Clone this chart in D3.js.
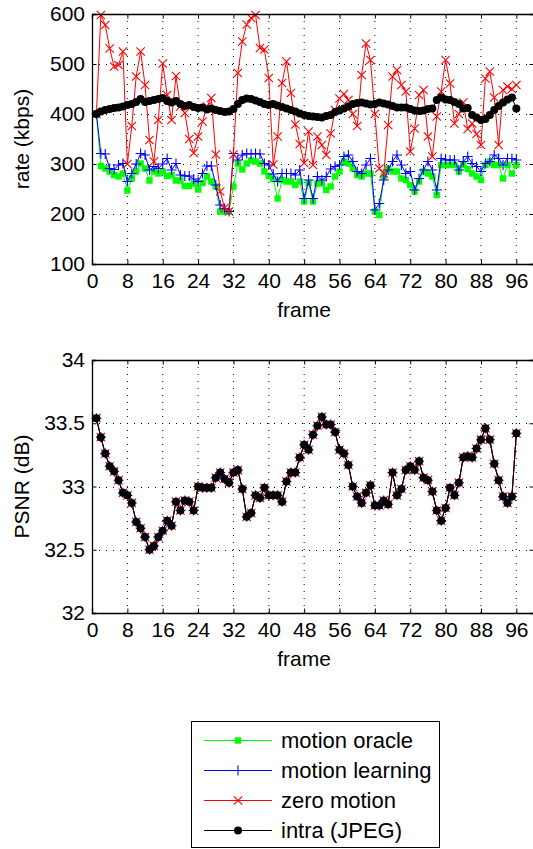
<!DOCTYPE html>
<html>
<head>
<meta charset="utf-8">
<script src="https://cdn.jsdelivr.net/npm/d3@7"></script>
<style>
  body { margin: 0; background: #fff; }
  svg { display: block; font-family: "Liberation Sans", Arial, Helvetica, sans-serif; }
</style>
</head>
<body>
<div id="chart"></div>
<script>
// frames 1..96
const frames = d3.range(1, 97);

// rate (kbps) per frame
const rateOracle = [400,296,291,285,278,275,281,247,271,285,301,291,267,285,281,285,276,278,267,267,
  256,256,261,249,262,275,265,255,205,205,205,255,301,289,301,307,305,301,285,276,
  270,231,268,265,265,258,265,225,262,225,261,261,248,255,275,285,305,301,291,278,
  275,281,281,205,198,275,291,285,285,271,268,258,245,265,285,281,275,238,298,298,
  298,298,285,298,290,281,275,268,298,305,298,298,271,298,281,298];
const rateLearning = [400,321,320,291,289,298,301,265,281,300,321,318,288,295,291,300,311,288,301,278,
  276,276,270,265,281,296,296,258,218,211,205,321,308,318,321,320,321,320,301,298,
  280,265,281,281,281,278,288,231,268,231,275,268,275,290,295,298,315,318,305,285,
  281,298,311,208,221,268,288,305,318,298,281,285,248,271,288,305,288,248,311,308,
  308,308,288,305,315,301,295,285,301,305,318,311,298,311,311,308];
const rateZero = [400,598,578,531,495,498,525,300,376,475,525,458,348,305,388,501,438,388,476,415,
  402,350,322,355,385,415,432,319,245,212,205,319,482,545,579,592,598,532,529,472,
  299,355,462,505,442,379,340,302,365,298,355,338,318,361,408,431,440,428,400,376,
  478,541,508,400,291,281,378,475,488,458,445,325,371,438,448,355,315,395,445,508,
  461,381,400,423,370,381,360,338,471,485,433,338,448,455,450,458];
const rateIntra = [400,405,408,410,412,413,415,418,420,424,430,424,426,428,430,432,426,423,426,420,
  416,418,414,412,413,409,411,408,406,404,405,410,420,428,431,430,427,424,420,418,
  420,417,414,411,408,405,401,398,396,395,394,393,396,398,404,407,411,415,420,422,
  423,421,419,420,423,421,419,416,413,413,413,410,407,406,407,410,411,428,433,429,
  428,424,420,411,412,398,393,388,390,398,408,416,423,429,433,411];

// PSNR (dB) per frame, same for all four schemes
const psnr = [33.54,33.39,33.26,33.16,33.12,33.05,32.95,32.93,32.87,32.72,32.67,32.60,32.50,32.53,32.60,32.65,
  32.73,32.69,32.88,32.81,32.89,32.88,32.81,33.00,32.99,32.99,32.99,33.07,33.11,33.06,33.03,33.11,
  33.13,32.98,32.76,32.79,32.93,32.91,32.99,32.93,32.93,32.93,32.88,33.04,33.11,33.11,33.23,33.33,
  33.29,33.41,33.48,33.55,33.49,33.49,33.43,33.29,33.26,33.17,33.00,32.92,32.87,32.95,33.01,32.85,
  32.85,32.89,32.86,33.11,32.93,32.98,33.13,33.16,33.13,33.20,33.07,33.05,32.96,32.81,32.73,32.83,
  32.99,32.93,33.03,33.23,33.24,33.23,33.30,33.37,33.46,33.37,33.18,33.05,32.92,32.87,32.92,33.42];

const seriesNames = ['motion oracle', 'motion learning', 'zero motion', 'intra (JPEG)'];
const xTicks = d3.range(0, 97, 8);
const rateTicks = [100, 200, 300, 400, 500, 600];
const psnrTicks = [32, 32.5, 33, 33.5, 34];

const W = 533, H = 849;
const svg = d3.select('#chart').append('svg').attr('width', W).attr('height', H);

const left = 92, right = 534;
const x = d3.scaleLinear().domain([0, 100]).range([left, right]);

const styles = [
  { color: '#00ff00', marker: 'square' },
  { color: '#0000ff', marker: 'plus' },
  { color: '#ff0000', marker: 'cross' },
  { color: '#000000', marker: 'dot' }
];

function drawMarker(g, type, color, cx, cy) {
  if (type === 'square') {
    g.append('rect').attr('x', cx - 3.2).attr('y', cy - 3.2).attr('width', 6.4).attr('height', 6.4)
      .attr('fill', color);
  } else if (type === 'plus') {
    g.append('path').attr('d', `M${cx - 5},${cy}H${cx + 5}M${cx},${cy - 5}V${cy + 5}`)
      .attr('stroke', color).attr('stroke-width', 1.1);
  } else if (type === 'cross') {
    g.append('path').attr('d', `M${cx - 4.2},${cy - 4.2}L${cx + 4.2},${cy + 4.2}M${cx - 4.2},${cy + 4.2}L${cx + 4.2},${cy - 4.2}`)
      .attr('stroke', color).attr('stroke-width', 1.1);
  } else {
    g.append('circle').attr('cx', cx).attr('cy', cy).attr('r', 4).attr('fill', color);
  }
}

function drawPanel(top, bottom, yDomain, yTicks, yFmt, yLabel, series) {
  const y = d3.scaleLinear().domain(yDomain).range([bottom, top]);
  const g = svg.append('g');

  // grid
  g.append('g').selectAll('line.gx').data(xTicks.filter(d => d > 0)).join('line')
    .attr('x1', d => x(d)).attr('x2', d => x(d)).attr('y1', top).attr('y2', bottom)
    .attr('stroke', '#000').attr('stroke-width', 1).attr('stroke-dasharray', '1,6');
  g.append('g').selectAll('line.gy').data(yTicks.slice(1, -1)).join('line')
    .attr('x1', left).attr('x2', right).attr('y1', d => Math.round(y(d)) + 0.5).attr('y2', d => Math.round(y(d)) + 0.5)
    .attr('stroke', '#000').attr('stroke-width', 1).attr('stroke-dasharray', '1,6');

  // series
  const line = d3.line().x((d, i) => x(frames[i])).y(d => y(d));
  series.forEach((vals, k) => {
    const st = styles[k];
    const sg = g.append('g');
    sg.append('path').datum(vals).attr('d', line).attr('fill', 'none')
      .attr('stroke', st.color).attr('stroke-width', 1);
    vals.forEach((v, i) => drawMarker(sg, st.marker, st.color, x(frames[i]), y(v)));
  });

  // axes box with inward ticks
  const axB = g.append('g').attr('transform', `translate(0,${bottom})`)
    .call(d3.axisBottom(x).tickValues(xTicks).tickSize(-4.5).tickPadding(9));
  const axT = g.append('g').attr('transform', `translate(0,${top})`)
    .call(d3.axisTop(x).tickValues(xTicks).tickSize(-4.5).tickFormat(''));
  const axL = g.append('g').attr('transform', `translate(${left},0)`)
    .call(d3.axisLeft(y).tickValues(yTicks).tickSize(-4.5).tickPadding(7).tickFormat(yFmt));
  const axR = g.append('g').attr('transform', `translate(${right},0)`)
    .call(d3.axisRight(y).tickValues(yTicks).tickSize(-4.5).tickFormat(''));
  [axB, axT, axL, axR].forEach(a => {
    a.select('.domain').attr('stroke', '#000').attr('stroke-width', 1.3);
    a.selectAll('.tick line').attr('stroke', '#000');
    a.selectAll('text').attr('font-size', 21).attr('fill', '#000')
      .attr('font-family', '"Liberation Sans", Arial, sans-serif');
  });

  g.append('text').attr('x', 304).attr('y', bottom + 53).attr('text-anchor', 'middle')
    .attr('font-size', 21).text('frame');
  g.append('text').attr('transform', `translate(29,${(top + bottom) / 2}) rotate(-90)`)
    .attr('text-anchor', 'middle').attr('font-size', 21).text(yLabel);
}

drawPanel(14, 264, [100, 600], rateTicks, d3.format('d'), 'rate (kbps)',
  [rateOracle, rateLearning, rateZero, rateIntra]);
drawPanel(360, 613, [32, 34], psnrTicks, d => String(d), 'PSNR (dB)',
  [psnr, psnr, psnr, psnr]);

// legend
const lg = svg.append('g');
lg.append('rect').attr('x', 191.5).attr('y', 721.5).attr('width', 248).attr('height', 126)
  .attr('fill', '#fff').attr('stroke', '#000').attr('stroke-width', 1);
seriesNames.forEach((name, k) => {
  const cy = 740.5 + k * 30;
  const st = styles[k];
  lg.append('line').attr('x1', 204).attr('x2', 272).attr('y1', cy).attr('y2', cy)
    .attr('stroke', st.color).attr('stroke-width', 1);
  drawMarker(lg, st.marker, st.color, 238, cy);
  lg.append('text').attr('x', 281).attr('y', cy).attr('dy', '0.35em')
    .attr('font-size', 22).text(name);
});
</script>
</body>
</html>
